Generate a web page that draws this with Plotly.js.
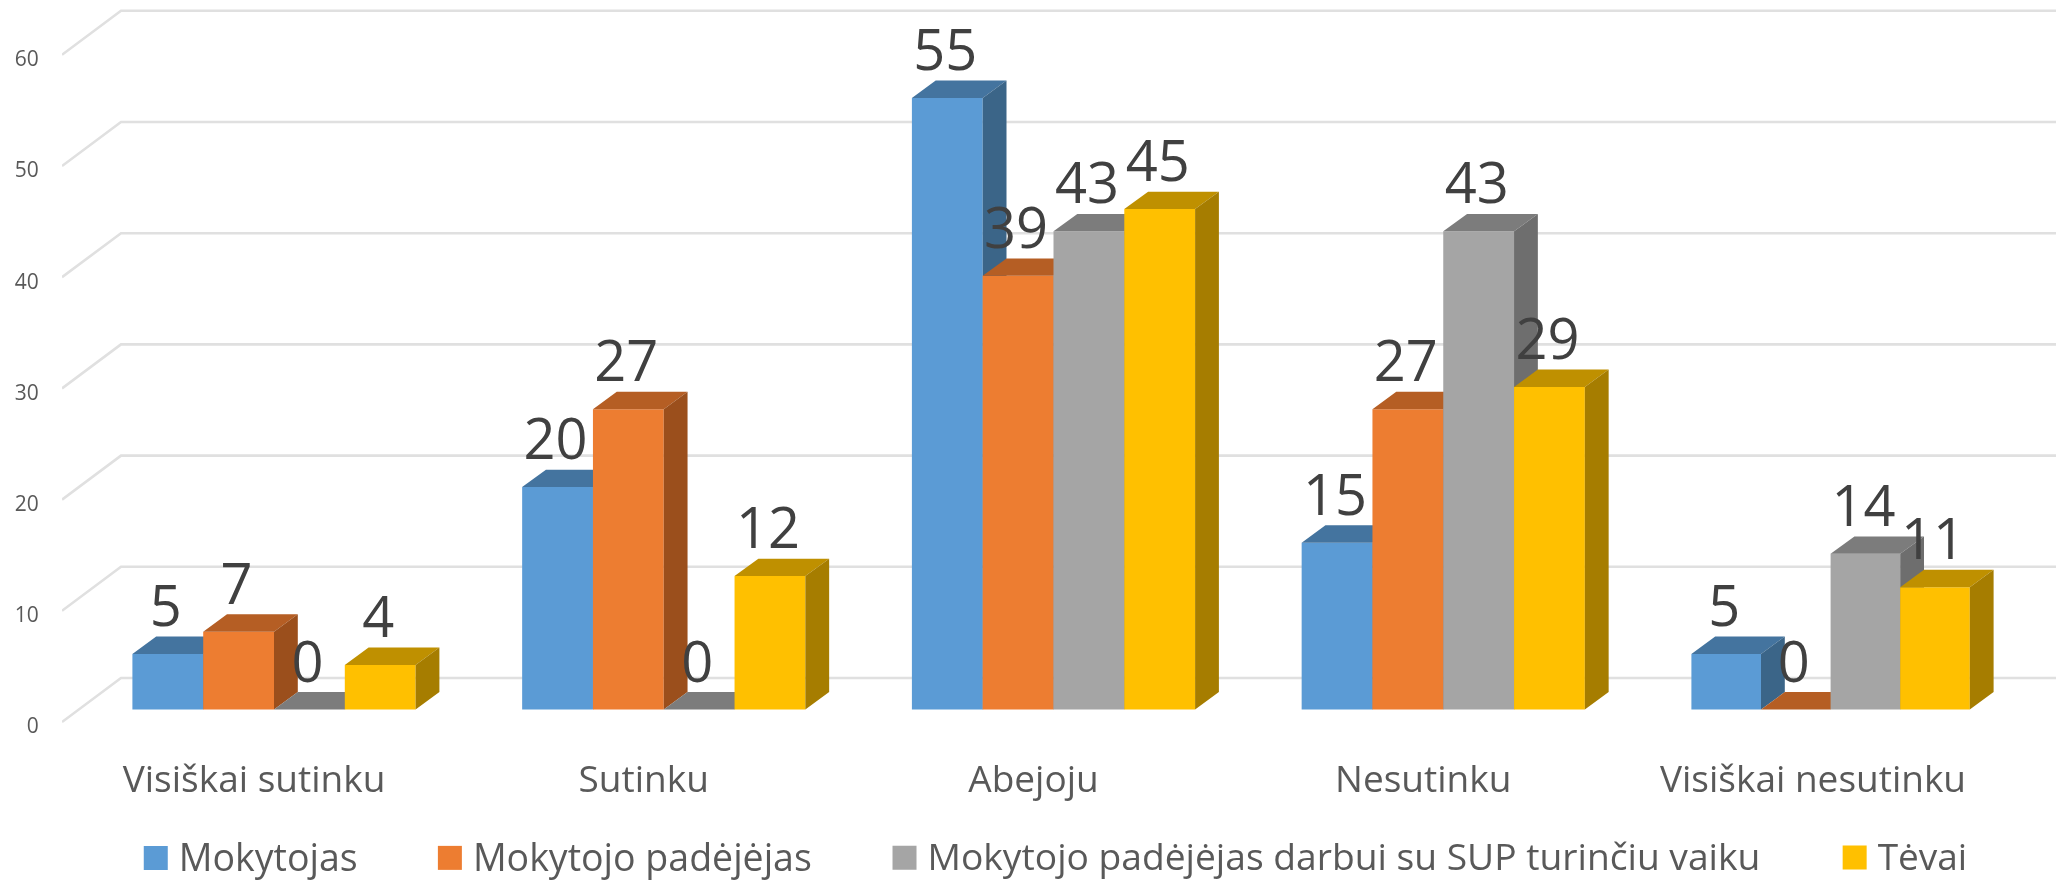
<!DOCTYPE html>
<html><head><meta charset="utf-8">
<script src="https://cdn.plot.ly/plotly-3.0.1.min.js"></script>
<style>html,body{margin:0;padding:0;background:#fff;overflow:hidden}
#c{width:2056px;height:881px;filter:blur(0.6px)}</style></head><body><div id="c"></div>
<script>
const categories=["Visiškai sutinku","Sutinku","Abejoju","Nesutinku","Visiškai nesutinku"];
const seriesNames=["Mokytojas","Mokytojo padėjėjas","Mokytojo padėjėjas darbui su SUP turinčiu vaiku","Tėvai"];
const mokytojas=[5,20,55,15,5];
const padejejas=[7,27,39,27,0];
const padejejasSup=[0,0,43,43,14];
const tevai=[4,12,45,29,11];
const yTicks=[0,10,20,30,40,50,60];
const frontColors=["#5b9bd5","#ed7d31","#a5a5a5","#ffc000"];
const topColors=["#44749f","#b55e24","#7c7c7c","#bf9000"];
const sideColors=["#3b6588","#9b4f1c","#6e6e6e","#a67d00"];
const legendX=[0.0385,0.186,0.414,0.8905];
const legendFont=[37.5,37.5,37.2,37];
const barPx=[70.8,70.8,70.8,70.8,69.6];

const allSeries=[mokytojas,padejejas,padejejasSup,tevai];
const pxPerUnit=11.12, bandPx=389.75, originPx=254;
const W=2056,H=881,L=62,B=129,plotH=H-B;
const x0=(L-originPx)/bandPx, x1=(W-originPx)/bandPx;
const labelAxisZero=726, labelLift=4/pxPerUnit;
const yMin=-(plotH-labelAxisZero)/pxPerUnit, yMax=labelAxisZero/pxPerUnit;
const barShift=(726-709.5)/pxPerUnit;
const wallRise=44/pxPerUnit, wallX=(121-originPx)/bandPx;
const groupShift=20/bandPx, dx=23.8/bandPx, dy=17.4/pxPerUnit;
const xs=categories.map((_,i)=>i);
const groupLeft=i=>i+groupShift-2*barPx[0]/bandPx;

const traces=[];
yTicks.forEach(v=>traces.push({type:'scatter',mode:'lines',xaxis:'x',yaxis:'y',
  x:[x0,wallX,x1],y:[v+labelLift,v+labelLift+wallRise,v+labelLift+wallRise],line:{color:'#e0e0e0',width:2.6},
  showlegend:false,hoverinfo:'skip'}));

allSeries.forEach((vals,k)=>{
  const ya='y'+(k+2);
  const widths=barPx.map(p=>p/bandPx);
  const offs=xs.map(i=>groupLeft(i)-i+k*widths[i]);
  traces.push({type:'bar',name:seriesNames[k],legend:k?'legend'+(k+1):'legend',xaxis:'x',yaxis:ya,
    x:xs,y:vals,width:widths,offset:offs,marker:{color:frontColors[k],line:{width:0}},hoverinfo:'skip'});
  const tx=[],ty=[],sx=[],sy=[];
  vals.forEach((v,i)=>{
    const a=i+offs[i],b=a+widths[i];
    tx.push(a,a+dx,b+dx,b,a,null); ty.push(v,v+dy,v+dy,v,v,null);
    sx.push(b,b+dx,b+dx,b,b,null); sy.push(0,dy,v+dy,v,0,null);
  });
  traces.push({type:'scatter',mode:'lines',fill:'toself',fillcolor:topColors[k],line:{width:0,color:topColors[k]},
    x:tx,y:ty,xaxis:'x',yaxis:ya,showlegend:false,hoverinfo:'skip'});
  traces.push({type:'scatter',mode:'lines',fill:'toself',fillcolor:sideColors[k],line:{width:0,color:sideColors[k]},
    x:sx,y:sy,xaxis:'x',yaxis:ya,showlegend:false,hoverinfo:'skip'});
});
allSeries.forEach((vals,k)=>{
  traces.push({type:'scatter',mode:'text',xaxis:'x',yaxis:'y5',
    x:vals.map((v,i)=>groupLeft(i)+(k+0.5)*barPx[i]/bandPx-2/bandPx),y:vals.map(v=>v+42/pxPerUnit),text:vals.map(String),
    textposition:'middle center',textfont:{family:'"Open Sans"',size:56,color:'#404040'},
    cliponaxis:false,showlegend:false,hoverinfo:'skip'});
});

const hiddenY=()=>({overlaying:'y',visible:false,range:[yMin-barShift,yMax-barShift],fixedrange:true});
const leg=i=>({orientation:'h',x:legendX[i],xanchor:'left',y:-104/plotH,yanchor:'middle',
  font:{family:'"Open Sans"',size:legendFont[i],color:'#595959'},itemwidth:30,bgcolor:'rgba(0,0,0,0)',
  itemclick:false,itemdoubleclick:false});
const layout={width:W,height:H,paper_bgcolor:'#fff',plot_bgcolor:'#fff',showlegend:true,
  margin:{l:L,r:0,t:0,b:B,pad:0,autoexpand:false},hovermode:false,
  xaxis:{type:'linear',range:[x0,x1],tickmode:'array',tickvals:xs,ticktext:categories,
    showgrid:false,zeroline:false,showline:false,ticks:'',ticklabelstandoff:2,fixedrange:true,
    tickfont:{family:'"Open Sans"',size:37,color:'#595959'}},
  yaxis:{range:[yMin,yMax],tickmode:'array',tickvals:yTicks,ticktext:yTicks.map(String),
    showgrid:false,zeroline:false,showline:false,ticks:'outside',ticklen:18,tickcolor:'rgba(0,0,0,0)',fixedrange:true,
    tickfont:{family:'"Open Sans"',size:21,color:'#595959'}},
  yaxis2:hiddenY(),yaxis3:hiddenY(),yaxis4:hiddenY(),yaxis5:hiddenY(),
  legend:leg(0),legend2:leg(1),legend3:leg(2),legend4:leg(3)};
Plotly.newPlot('c',traces,layout,{displayModeBar:false,staticPlot:true}).then(()=>{
  document.querySelectorAll('.legendpoints path').forEach(p=>{
    if(p.getAttribute('d')){p.setAttribute('d','M9,14H-15V-10H9Z');}
  });
});
</script></body></html>
